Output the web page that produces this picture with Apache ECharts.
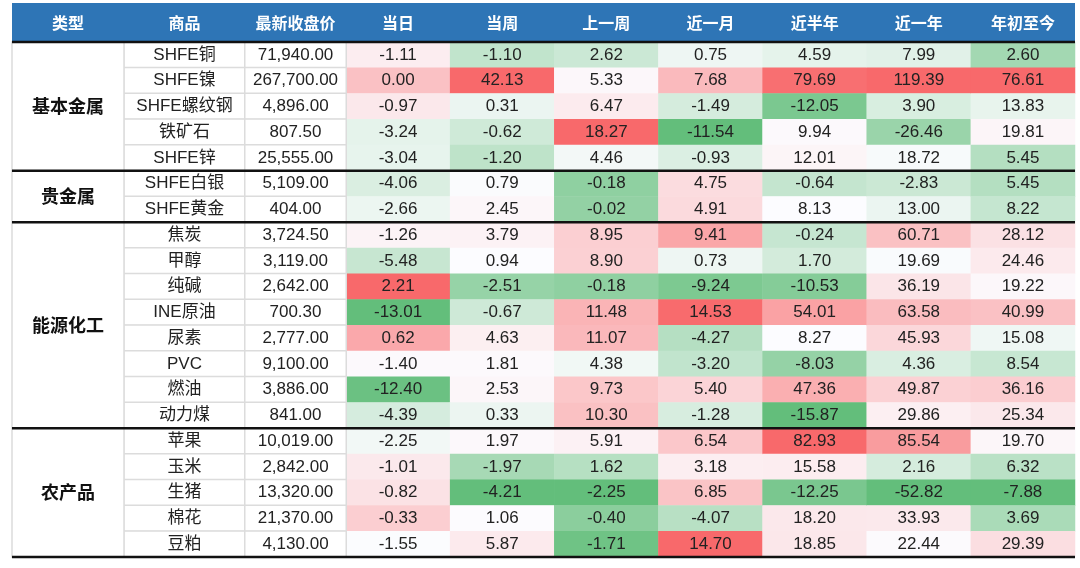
<!DOCTYPE html>
<html>
<head>
<meta charset="utf-8">
<script src="https://cdn.jsdelivr.net/npm/echarts@6/dist/echarts.min.js"></script>
<style>
  html, body { margin: 0; padding: 0; background: #fff; }
  #main { width: 1080px; height: 568px; }
</style>
</head>
<body>
<div id="main"></div>
<script>
// ---- data ----
const groups = ['基本金属', '贵金属', '能源化工', '农产品'];
const groupSizes = [5, 2, 8, 5];
const products = ['SHFE铜', 'SHFE镍', 'SHFE螺纹钢', '铁矿石', 'SHFE锌', 'SHFE白银', 'SHFE黄金',
  '焦炭', '甲醇', '纯碱', 'INE原油', '尿素', 'PVC', '燃油', '动力煤',
  '苹果', '玉米', '生猪', '棉花', '豆粕'];
const prices = [71940, 267700, 4896, 807.5, 25555, 5109, 404,
  3724.5, 3119, 2642, 700.3, 2777, 9100, 3886, 841,
  10019, 2842, 13320, 21370, 4130];
const periods = ['当日', '当周', '上一周', '近一月', '近半年', '近一年', '年初至今'];

const day      = [-1.11, 0.00, -0.97, -3.24, -3.04, -4.06, -2.66, -1.26, -5.48, 2.21, -13.01, 0.62, -1.40, -12.40, -4.39, -2.25, -1.01, -0.82, -0.33, -1.55];
const week     = [-1.10, 42.13, 0.31, -0.62, -1.20, 0.79, 2.45, 3.79, 0.94, -2.51, -0.67, 4.63, 1.81, 2.53, 0.33, 1.97, -1.97, -4.21, 1.06, 5.87];
const lastWeek = [2.62, 5.33, 6.47, 18.27, 4.46, -0.18, -0.02, 8.95, 8.90, -0.18, 11.48, 11.07, 4.38, 9.73, 10.30, 5.91, 1.62, -2.25, -0.40, -1.71];
const month    = [0.75, 7.68, -1.49, -11.54, -0.93, 4.75, 4.91, 9.41, 0.73, -9.24, 14.53, -4.27, -3.20, 5.40, -1.28, 6.54, 3.18, 6.85, -4.07, 14.70];
const halfYear = [4.59, 79.69, -12.05, 9.94, 12.01, -0.64, 8.13, -0.24, 1.70, -10.53, 54.01, 8.27, -8.03, 47.36, -15.87, 82.93, 15.58, -12.25, 18.20, 18.85];
const year     = [7.99, 119.39, 3.90, -26.46, 18.72, -2.83, 13.00, 60.71, 19.69, 36.19, 63.58, 45.93, 4.36, 49.87, 29.86, 85.54, 2.16, -52.82, 33.93, 22.44];
const ytd      = [2.60, 76.61, 13.83, 19.81, 5.45, 5.45, 8.22, 28.12, 24.46, 19.22, 40.99, 15.08, 8.54, 36.16, 25.34, 19.70, 6.32, -7.88, 3.69, 29.39];
const columns = [day, week, lastWeek, month, halfYear, year, ytd];

// ---- helpers ----
const NUM_FONT = '"Liberation Sans", "Noto Sans CJK SC", sans-serif';
const CJK_FONT = '"Noto Sans CJK SC", sans-serif';
const HEAD_BLUE = '#2E75B6';

// excel style 3 colour scale: min -> green, median -> white, max -> red
function scoreColumn(vals) {
  const s = vals.slice().sort((a, b) => a - b);
  const n = s.length;
  const med = n % 2 ? s[(n - 1) / 2] : (s[n / 2 - 1] + s[n / 2]) / 2;
  const mn = s[0], mx = s[n - 1];
  return vals.map(v => v >= med ? (mx === med ? 0 : (v - med) / (mx - med)) : -(med - v) / (med - mn));
}

const heatData = [];
columns.forEach((col, c) => {
  const sc = scoreColumn(col);
  col.forEach((v, r) => heatData.push([c, r, v, sc[r]]));
});

const rowIdx = products.map((p, i) => i);
const productData = products.map((p, i) => [0, i, 0]);
const priceData = prices.map((p, i) => [0, i, 0]);

let acc = 0;
const groupData = groups.map((g, i) => {
  const item = [acc, acc + groupSizes[i], g];
  acc += groupSizes[i];
  return item;
});

const TOP = 42, BOTTOM = 11, RIGHT = 5;
const grids = [
  { left: 12, width: 112, top: TOP, bottom: BOTTOM },
  { left: 124, width: 121, top: TOP, bottom: BOTTOM },
  { left: 245, width: 101, top: TOP, bottom: BOTTOM },
  { left: 346, right: RIGHT, top: TOP, bottom: BOTTOM }
];
const headLabels = [['类型'], ['商品'], ['最新收盘价'], periods];

const xAxes = headLabels.map((lab, i) => ({
  type: 'category', gridIndex: i, data: lab, position: 'top',
  axisLine: { show: false }, axisTick: { show: false }, splitLine: { show: false },
  axisLabel: { color: '#fff', fontWeight: 'bold', fontSize: 16, fontFamily: CJK_FONT, margin: 11, interval: 0 }
}));
const yAxes = [
  { type: 'value', gridIndex: 0, min: 0, max: products.length, inverse: true, show: false },
  { type: 'category', gridIndex: 1, data: rowIdx, inverse: true, show: false },
  { type: 'category', gridIndex: 2, data: rowIdx, inverse: true, show: false },
  { type: 'category', gridIndex: 3, data: rowIdx, inverse: true, show: false }
];

const textCell = {
  color: '#fff', borderColor: '#dcdcdc', borderWidth: 1.5
};

var chartDom = document.getElementById('main');
var myChart = echarts.init(chartDom);
var option;

option = {
  backgroundColor: '#fff',
  animation: false,
  grid: grids,
  xAxis: xAxes,
  yAxis: yAxes,
  graphic: [{
    type: 'rect', z: -1,
    shape: { x: 12, y: 3, width: 1080 - RIGHT - 12, height: 38 },
    style: { fill: HEAD_BLUE }
  }],
  visualMap: {
    show: false, type: 'continuous', seriesIndex: 0, dimension: 3,
    min: -1, max: 1,
    inRange: { color: ['#63BE7B', '#FCFCFF', '#F8696B'] }
  },
  series: [
    {
      type: 'heatmap', xAxisIndex: 3, yAxisIndex: 3, data: heatData,
      label: {
        show: true, color: '#222', fontSize: 17, fontFamily: NUM_FONT,
        formatter: p => p.value[2].toFixed(2)
      },
      emphasis: { disabled: true }
    },
    {
      type: 'heatmap', xAxisIndex: 1, yAxisIndex: 1, data: productData,
      itemStyle: textCell,
      label: {
        show: true, color: '#222', fontSize: 17, fontFamily: NUM_FONT,
        formatter: p => products[p.value[1]]
      },
      emphasis: { disabled: true }
    },
    {
      type: 'heatmap', xAxisIndex: 2, yAxisIndex: 2, data: priceData,
      itemStyle: textCell,
      label: {
        show: true, color: '#222', fontSize: 17, fontFamily: NUM_FONT,
        formatter: p => prices[p.value[1]].toLocaleString('en-US', { minimumFractionDigits: 2, maximumFractionDigits: 2 })
      },
      emphasis: { disabled: true }
    },
    {
      type: 'custom', xAxisIndex: 0, yAxisIndex: 0, data: groupData, z: 10, clip: false,
      encode: { y: [0, 1] },
      renderItem: function (params, api) {
        const cs = params.coordSys;
        const y0 = api.coord([0, api.value(0)])[1];
        const y1 = api.coord([0, api.value(1)])[1];
        const right = api.getWidth() - RIGHT;
        const kids = [
          { type: 'rect', z2: 0, shape: { x: cs.x, y: y0, width: cs.width, height: y1 - y0 },
            style: { fill: '#fff', stroke: '#dcdcdc', lineWidth: 1.5 } },
          { type: 'text', z2: 2, style: {
              text: groupData[params.dataIndex][2], x: cs.x + cs.width / 2, y: (y0 + y1) / 2,
              align: 'center', verticalAlign: 'middle',
              font: 'bold 18px ' + CJK_FONT, fill: '#111' } },
          { type: 'line', z2: 3, shape: { x1: cs.x, y1: y1, x2: right, y2: y1 },
            style: { stroke: '#111', lineWidth: 2.5 } }
        ];
        if (params.dataIndex === 0) {
          kids.push({ type: 'line', z2: 3, shape: { x1: cs.x, y1: y0, x2: right, y2: y0 },
            style: { stroke: '#111', lineWidth: 2.5 } });
        }
        return { type: 'group', children: kids };
      }
    }
  ]
};

option && myChart.setOption(option);
</script>
</body>
</html>
